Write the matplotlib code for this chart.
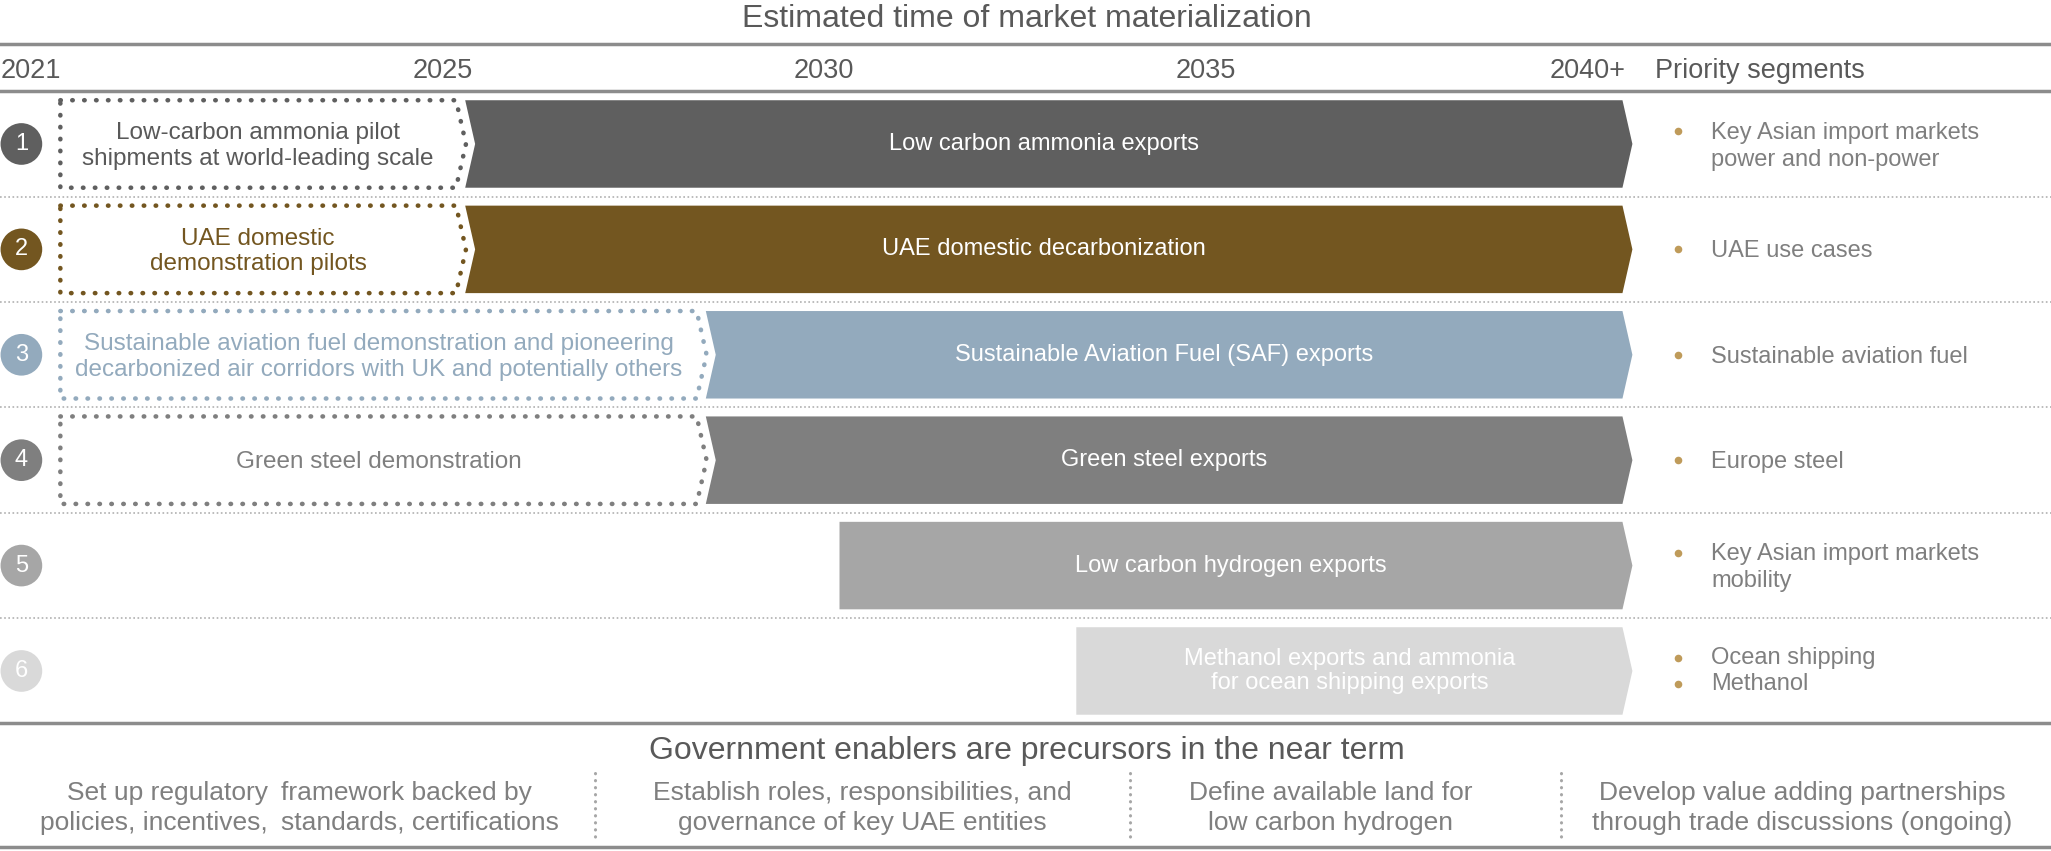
# Roadmap: estimated time of market materialization
import matplotlib.pyplot as plt
from matplotlib.patches import Polygon

plt.rcParams['font.family'] = ['Liberation Sans', 'DejaVu Sans']

# Datos
rows = [1, 2, 3, 4, 5, 6]
row_colors = ['#5f5f5f', '#735620', '#93aabd', '#7f7f7f', '#a6a6a6', '#d9d9d9']
pilot_text_colors = ['#595959', '#735620', '#93aabd', '#7f7f7f']
pilot_labels = ['Low-carbon ammonia pilot\nshipments at world-leading scale',
                'UAE domestic\ndemonstration pilots',
                'Sustainable aviation fuel demonstration and pioneering\n'
                'decarbonized air corridors with UK and potentially others',
                'Green steel demonstration']
pilot_start = [2020.0, 2020.0, 2020.0, 2020.0]
export_labels = ['Low carbon ammonia exports',
                 'UAE domestic decarbonization',
                 'Sustainable Aviation Fuel (SAF) exports',
                 'Green steel exports',
                 'Low carbon hydrogen exports',
                 'Methanol exports and ammonia\nfor ocean shipping exports']
export_start = [2025.3, 2025.3, 2028.45, 2028.45, 2030.2, 2033.3]
export_end = [2040.45] * 6
segments = [['Key Asian import markets\npower and non-power'],
            ['UAE use cases'],
            ['Sustainable aviation fuel'],
            ['Europe steel'],
            ['Key Asian import markets\nmobility'],
            ['Ocean shipping', 'Methanol']]
year_pos = [2019.22, 2025, 2030, 2035, 2040]
year_labels = ['2021', '2025', '2030', '2035', '2040+']
enablers = ['Establish roles, responsibilities, and\ngovernance of key UAE entities',
            'Define available land for\nlow carbon hydrogen',
            'Develop value adding partnerships\nthrough trade discussions (ongoing)']
enabler_pos = [2030.5, 2036.63, 2042.8]
enabler_seps = [2027.0, 2034.0, 2039.65]

GRIS = '#595959'
GRIS2 = '#7f7f7f'
ORO = '#bf9b5a'
h = 0.83   # alto de barra
d = 0.13   # punta del chevron

fig = plt.figure(figsize=(20.51, 8.51), dpi=100)
ax = fig.add_axes([0, 0, 1, 1])
ax.set_xlim(2019.21, 2046.06)
ax.set_ylim(7.708, -0.366)
ax.axis('off')

# Encabezado
ax.text(2032.65, -0.19, 'Estimated time of market materialization', ha='center', va='center',
        fontsize=23, color=GRIS)
ax.axhline(0.05, color='#8c8c8c', lw=2.5)
ax.axhline(0.5, color='#8c8c8c', lw=2.5)
for xp, lab in zip(year_pos, year_labels):
    ax.text(xp, 0.31, lab, ha='left' if lab == '2021' else 'center', va='center',
            fontsize=19.5, color=GRIS)
ax.text(2040.88, 0.31, 'Priority segments', ha='left', va='center', fontsize=19.5, color=GRIS)

# Separadores punteados entre filas
for r in rows[:-1]:
    ax.axhline(r + 0.5, color='#b0b0b0', lw=1.2, ls=(0, (1, 1.5)))

# Circulos numerados
ax.scatter([2019.49] * 6, rows, s=900, c=row_colors, zorder=3, linewidths=0)
for r, c in zip(rows, row_colors):
    ax.text(2019.49, r, str(r), ha='center', va='center', fontsize=17, color='white', zorder=4)

# Pilotos (cajas punteadas)
for i, (x0, lab) in enumerate(zip(pilot_start, pilot_labels)):
    y = rows[i]
    x1 = export_start[i] - 0.12
    pts = [(x0, y - h / 2), (x1, y - h / 2), (x1 + d, y), (x1, y + h / 2), (x0, y + h / 2)]
    ax.add_patch(Polygon(pts, closed=True, fill=False, edgecolor=row_colors[i], lw=3.3,
                         ls=(0, (0.1, 2.5)), capstyle='round', joinstyle='round'))
    ax.text((x0 + x1) / 2, y + 0.02, lab, ha='center', va='center', fontsize=17.5,
            color=pilot_text_colors[i], linespacing=1.2)

# Exportaciones (chevrons solidos)
for i, (x0, x1, lab) in enumerate(zip(export_start, export_end, export_labels)):
    y = rows[i]
    pts = [(x0, y - h / 2), (x1, y - h / 2), (x1 + d, y), (x1, y + h / 2), (x0, y + h / 2)]
    if i < 4:
        pts.append((x0 + d, y))
    ax.add_patch(Polygon(pts, closed=True, facecolor=row_colors[i], edgecolor='none'))
    ax.text((x0 + x1) / 2, y, lab, ha='center', va='center', fontsize=17, color='white',
            linespacing=1.15)

# Segmentos prioritarios
for i, segs in enumerate(segments):
    y = rows[i]
    if len(segs) == 1:
        ax.text(2041.61, y + 0.02, segs[0], ha='left', va='center', fontsize=17, color=GRIS2,
                linespacing=1.3)
        yb = y - 0.12 if '\n' in segs[0] else y
        ax.scatter([2041.18], [yb], s=30, color=ORO, linewidths=0)
    else:
        for k, s in enumerate(segs):
            yk = y - 0.125 + 0.25 * k
            ax.text(2041.61, yk, s, ha='left', va='center', fontsize=17, color=GRIS2)
            ax.scatter([2041.18], [yk], s=30, color=ORO, linewidths=0)

# Habilitadores del gobierno
ax.axhline(6.49, color='#8c8c8c', lw=2.5)
ax.axhline(7.67, color='#8c8c8c', lw=2.5)
ax.text(2032.65, 6.76, 'Government enablers are precursors in the near term', ha='center',
        va='center', fontsize=23, color=GRIS)
ax.text(2022.72, 7.3, 'Set up regulatory\npolicies, incentives,', ha='right', va='center',
        fontsize=19, color=GRIS2, linespacing=1.3)
ax.text(2022.89, 7.3, 'framework backed by\nstandards, certifications', ha='left', va='center',
        fontsize=19, color=GRIS2, linespacing=1.3)
for xp, lab in zip(enabler_pos, enablers):
    ax.text(xp, 7.3, lab, ha='center', va='center', fontsize=19, color=GRIS2, linespacing=1.3)
for xs in enabler_seps:
    ax.plot([xs, xs], [6.97, 7.58], color='#a6a6a6', lw=2.2, ls=(0, (0.1, 2.2)),
            dash_capstyle='round')

fig.savefig('out.png', dpi=100)
